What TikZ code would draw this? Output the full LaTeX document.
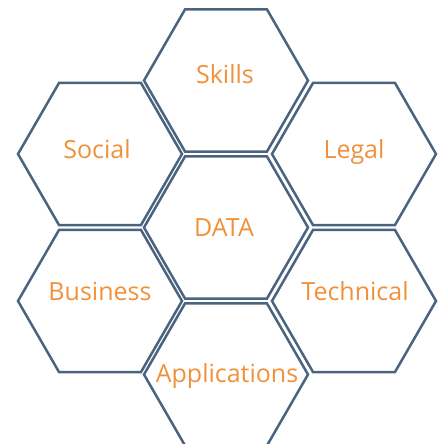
\documentclass[tikz,border=0pt]{standalone}
\usepackage{fontspec}
\setmainfont{Open Sans}
\definecolor{hexline}{HTML}{4A6480}
\definecolor{hextext}{HTML}{F0913A}
\begin{document}
\begin{tikzpicture}[x=1pt,y=-1pt,
  hex/.style={draw=hexline,line width=2.5pt,line join=miter},
  lbl/.style={text=hextext,font=\fontsize{25}{29}\selectfont,inner sep=0pt,anchor=base}]
\useasboundingbox (0,0) rectangle (440,444);
\clip (0,0) rectangle (440,444);
\foreach \cx/\cy in {226/80.5, 100/154, 354/154, 226/227.5, 100/301, 354/301, 226/374.5}{
  \draw[hex,shift={(\cx,\cy)}] (0:82) -- (60:82) -- (120:82) -- (180:82) -- (240:82) -- (300:82) -- cycle;
}
\node[lbl] (skills) at (225,83) {Skills};
\node[lbl] (social) at (97,158) {Social};
\node[lbl] (legal) at (354,158) {Legal};
\node[lbl] (data) at (224,236) {DATA};
\node[lbl] (business) at (100,300) {Business};
\node[lbl] (technical) at (355,300) {Technical};
\node[lbl] (applications) at (227,382) {Applications};
\end{tikzpicture}
\end{document}
